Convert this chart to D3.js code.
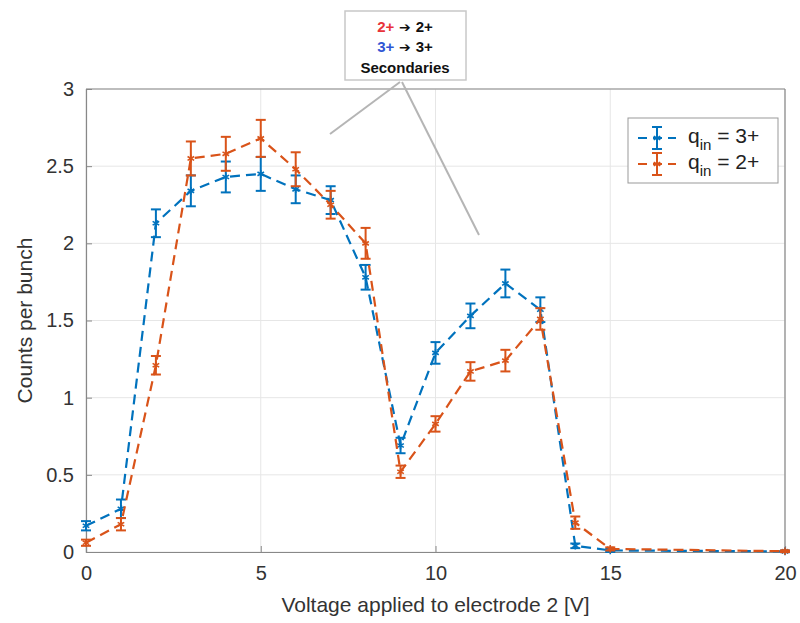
<!DOCTYPE html>
<html><head><meta charset="utf-8">
<script src="https://cdn.jsdelivr.net/npm/d3@7"></script>
<style>body{margin:0;background:#fff;} text{font-family:"Liberation Sans",Arial,sans-serif;}</style>
</head><body>
<svg id="c" width="800" height="623"></svg>
<script>
const voltages = [0,1,2,3,4,5,6,7,8,9,10,11,12,13,14,15,20];
const q3Counts = [0.17,0.28,2.13,2.34,2.43,2.45,2.35,2.28,1.78,0.69,1.29,1.53,1.74,1.57,0.04,0.01,0.004];
const q3Err    = [0.03,0.06,0.09,0.10,0.10,0.11,0.09,0.09,0.08,0.05,0.07,0.08,0.09,0.08,0.015,0.01,0.005];
const q2Counts = [0.06,0.18,1.21,2.55,2.58,2.68,2.48,2.25,2.00,0.52,0.83,1.17,1.24,1.51,0.19,0.02,0.005];
const q2Err    = [0.02,0.04,0.06,0.11,0.11,0.12,0.11,0.09,0.10,0.04,0.05,0.06,0.07,0.07,0.04,0.01,0.005];
const xTicks = [0,5,10,15,20];
const yTicks = [0,0.5,1,1.5,2,2.5,3];
const seriesNames = ["3+","2+"];
const colors = ["#0072BD","#D95319"];

const svg = d3.select("#c");
const L=86, R=785, T=89, B=552;
const x = d3.scaleLinear().domain([0,20]).range([L,R]);
const y = d3.scaleLinear().domain([0,3]).range([B,T]);

// grid
svg.append("g").selectAll("line").data(xTicks).join("line")
  .attr("x1",d=>x(d)).attr("x2",d=>x(d)).attr("y1",T).attr("y2",B)
  .attr("stroke","#e6e6e6").attr("stroke-width",1);
svg.append("g").selectAll("line").data(yTicks).join("line")
  .attr("x1",L).attr("x2",R).attr("y1",d=>y(d)).attr("y2",d=>y(d))
  .attr("stroke","#e6e6e6").attr("stroke-width",1);

// axes
const xa = svg.append("g").attr("transform",`translate(0,${B})`)
  .call(d3.axisBottom(x).tickValues(xTicks).tickSize(-6).tickPadding(14).tickFormat(d3.format("d")));
const ya = svg.append("g").attr("transform",`translate(${L},0)`)
  .call(d3.axisLeft(y).tickValues(yTicks).tickSize(-6).tickPadding(12).tickFormat(d=>String(d)));
[xa,ya].forEach(a=>{
  a.select(".domain").attr("stroke","#888").attr("stroke-width",1.2);
  a.selectAll(".tick line").attr("stroke","#888");
  a.selectAll("text").attr("font-size",20).attr("fill","#333").attr("font-family","Liberation Sans, Arial, sans-serif");
});
// box top/right
svg.append("line").attr("x1",L).attr("x2",R).attr("y1",T).attr("y2",T).attr("stroke","#888").attr("stroke-width",1.2);
svg.append("line").attr("x1",R).attr("x2",R).attr("y1",T).attr("y2",B).attr("stroke","#888").attr("stroke-width",1.2);

// labels
svg.append("text").attr("x",(L+R)/2).attr("y",612).attr("text-anchor","middle")
  .attr("font-size",21).attr("fill","#333").text("Voltage applied to electrode 2 [V]");
svg.append("text").attr("transform",`translate(32,${(T+B)/2}) rotate(-90)`).attr("text-anchor","middle")
  .attr("font-size",21).attr("fill","#333").text("Counts per bunch");

// series
const series = [
  {vals:q3Counts, err:q3Err, color:colors[0]},
  {vals:q2Counts, err:q2Err, color:colors[1]}
];
const line = d3.line().x(d=>x(d[0])).y(d=>y(d[1]));
const sym = d3.symbol().type(d3.symbolAsterisk).size(40);
series.forEach(s=>{
  const pts = voltages.map((v,i)=>[v,s.vals[i],s.err[i]]);
  const g = svg.append("g");
  g.append("path").attr("d",line(pts)).attr("fill","none").attr("stroke",s.color)
    .attr("stroke-width",2.2).attr("stroke-dasharray","10,6");
  const eb = g.selectAll(".eb").data(pts).join("g");
  eb.append("line").attr("x1",d=>x(d[0])).attr("x2",d=>x(d[0]))
    .attr("y1",d=>y(d[1]-d[2])).attr("y2",d=>y(d[1]+d[2])).attr("stroke",s.color).attr("stroke-width",2);
  [-1,1].forEach(sg=>{
    eb.append("line").attr("x1",d=>x(d[0])-5).attr("x2",d=>x(d[0])+5)
      .attr("y1",d=>y(d[1]+sg*d[2])).attr("y2",d=>y(d[1]+sg*d[2])).attr("stroke",s.color).attr("stroke-width",2);
  });
  eb.append("path").attr("d",sym).attr("transform",d=>`translate(${x(d[0])},${y(d[1])})`)
    .attr("fill","none").attr("stroke",s.color).attr("stroke-width",1.6);
});

// legend
const lg = svg.append("g");
lg.append("rect").attr("x",628).attr("y",118).attr("width",150).attr("height",65)
  .attr("fill","#fff").attr("stroke","#999").attr("stroke-width",1);
seriesNames.forEach((nm,i)=>{
  const cy = 138+i*26, c = colors[i];
  lg.append("line").attr("x1",638).attr("x2",676).attr("y1",cy).attr("y2",cy)
    .attr("stroke",c).attr("stroke-width",2.2).attr("stroke-dasharray","9,6");
  lg.append("line").attr("x1",657).attr("x2",657).attr("y1",cy-11).attr("y2",cy+11).attr("stroke",c).attr("stroke-width",2);
  [-11,11].forEach(o=>lg.append("line").attr("x1",652).attr("x2",662).attr("y1",cy+o).attr("y2",cy+o).attr("stroke",c).attr("stroke-width",2));
  lg.append("path").attr("d",sym).attr("transform",`translate(657,${cy})`).attr("fill","none").attr("stroke",c).attr("stroke-width",1.6);
  const t = lg.append("text").attr("x",688).attr("y",cy+5).attr("font-size",21).attr("fill","#222");
  t.append("tspan").text("q");
  t.append("tspan").attr("dy",7).attr("font-size",15).text("in");
  t.append("tspan").attr("dy",-7).text(" = "+nm);
});

// annotation
const an = svg.append("g");
an.append("line").attr("x1",400).attr("y1",82).attr("x2",330).attr("y2",134).attr("stroke","#b5b5b5").attr("stroke-width",2);
an.append("line").attr("x1",402).attr("y1",82).attr("x2",479).attr("y2",235).attr("stroke","#b5b5b5").attr("stroke-width",2);
an.append("rect").attr("x",345).attr("y",11).attr("width",121).attr("height",69)
  .attr("fill","#fff").attr("stroke","#c8c8c8").attr("stroke-width",1.5);
const rows = [["2+","#e8333a","2+"],["3+","#2f55d4","3+"]];
rows.forEach((r,i)=>{
  const t = an.append("text").attr("x",405).attr("y",32+i*20).attr("text-anchor","middle")
    .attr("font-size",15).attr("font-weight","bold");
  t.append("tspan").attr("fill",r[1]).text(r[0]);
  t.append("tspan").attr("fill","#111").attr("font-family","DejaVu Sans").attr("font-size",14).text(" ➔ ");
  t.append("tspan").attr("fill","#111").text(r[2]);
});
an.append("text").attr("x",405).attr("y",73).attr("text-anchor","middle").attr("font-size",15)
  .attr("font-weight","bold").attr("fill","#111").text("Secondaries");
</script>
</body></html>
